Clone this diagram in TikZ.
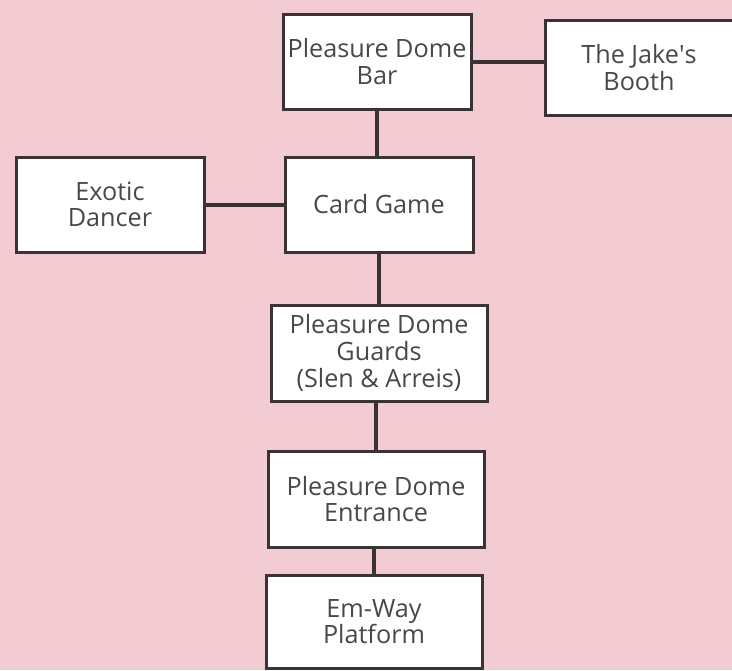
\documentclass[tikz,border=0pt]{standalone}
\usepackage{fontspec}
\setmainfont{Open Sans}
\usepackage{xcolor}
\usepackage{tikz}
\usetikzlibrary{positioning}
\definecolor{blush}{HTML}{F3CCD3}
\definecolor{inkline}{HTML}{3A3234}
\definecolor{inktext}{HTML}{484848}

\begin{document}
\begin{tikzpicture}[x=0.5pt,y=-0.5pt,
 roombox/.style={draw=inkline,line width=1.5pt,fill=white,align=center,text=inktext,
   font=\fontsize{12.6}{13.3}\selectfont,minimum width=94pt,minimum height=47.5pt,inner sep=1pt},
 widebox/.style={roombox,minimum width=108pt,minimum height=48pt},
 link/.style={draw=inkline,line width=2pt}]
\fill[blush] (0,0) rectangle (732,670);
\useasboundingbox (0,0) rectangle (732,670);
\node[roombox] (card) at (379,204.5) {Card Game};
\node[roombox,above=22.5pt of card,xshift=-1pt] (bar) {Pleasure Dome\\Bar};
\node[roombox,right=35.5pt of bar,yshift=-3pt] (jake) {The Jake\textquotesingle s\\Booth};
\node[roombox,left=39pt of card] (dancer) {Exotic\\Dancer};
\node[widebox,below=25pt of card] (guards) {Pleasure Dome\\Guards\\(Slen \& Arreis)};
\node[widebox,below=23.5pt of guards,xshift=-1.5pt] (entrance) {Pleasure Dome\\Entrance};
\node[widebox,below=12.5pt of entrance,minimum height=46.5pt,xshift=-1pt] (emway) {Em-Way\\Platform};
\draw[link] (bar) -- (bar |- card.north);
\draw[link] (bar.east) -- (bar.east -| jake.west);
\draw[link] (dancer) -- (card);
\draw[link] (card) -- (guards);
\draw[link] (entrance.north) -- (entrance.north |- guards.south);
\draw[link] (emway.north) -- (emway.north |- entrance.south);
\end{tikzpicture}
\end{document}
